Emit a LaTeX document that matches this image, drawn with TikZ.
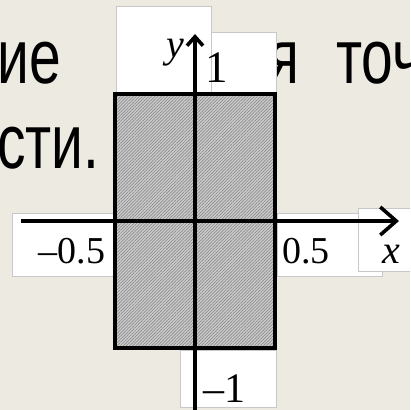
\documentclass[tikz,border=0pt]{standalone}
\usepackage{fontspec}
\setmainfont{Liberation Serif}
\newfontfamily\slidefont{Liberation Sans}
\usetikzlibrary{arrows.meta,patterns.meta}
\definecolor{bgc}{RGB}{237,235,225}
\definecolor{hatchbg}{RGB}{205,205,205}
\definecolor{hatchln}{RGB}{140,140,140}
\definecolor{boxedge}{RGB}{200,200,200}
\newcommand{\narrowtext}[1]{\scalebox{0.74}[1]{#1}}
\begin{document}
\begin{tikzpicture}[x=1pt,y=-1pt,
  bgtext/.style={inner sep=0pt, font=\slidefont\fontsize{77}{77}\selectfont},
  wbox/.style={fill=white, draw=boxedge, line width=0.6pt},
  lbl/.style={inner sep=0pt, anchor=base, font=\fontsize{38}{38}\selectfont},
  axisline/.style={line width=3.6pt}]
\useasboundingbox (0,0) rectangle (410,410);
\fill[bgc] (0,0) rectangle (410,410);
\begin{scope}
\clip (0,0) rectangle (410,410);
\node[bgtext, anchor=base west] (t1) at (-3,83) {\narrowtext{ие}};
\node[bgtext, anchor=base east] (t2) at (300,83) {\narrowtext{я}};
\node[bgtext, anchor=base west] (t3) at (336,83) {\narrowtext{точ}};
\node[bgtext, anchor=base west] (t4) at (-3,168) {\narrowtext{сти.}};
% white label patches
\filldraw[wbox] (116,6) rectangle (211,95);
\filldraw[wbox] (211,32) rectangle (276,95);
\filldraw[wbox] (12,213) rectangle (113,276);
\filldraw[wbox] (277,213) rectangle (382,276);
\filldraw[wbox] (358,208) rectangle (412,271);
\filldraw[wbox] (180,350) rectangle (276,407);
\end{scope}
% region
\fill[hatchbg] (115,94) rectangle (275,348);
\fill[pattern={Lines[angle=45,distance=2.2pt,line width=0.7pt]}, pattern color=hatchln] (115,94) rectangle (275,348);
\draw[line width=4pt] (115,94) rectangle (275,348);
% axes
\coordinate (xs) at (21,221);
\coordinate (xe) at (399,221);
\coordinate (ys) at (195,412);
\coordinate (ye) at (195,34);
\draw[axisline, -{Straight Barb[length=16pt,width=28pt]}] (xs) -- (xe);
\draw[axisline, -{Straight Barb[length=9pt,width=16pt]}] (ys) -- (ye);
% labels
\node[lbl] (lm) at (72,263) {–0.5};
\node[lbl] (lp) at (306,263) {0.5};
\node[lbl, font=\fontsize{40}{40}\selectfont\itshape] (lx) at (391,263) {x};
\node[lbl, font=\fontsize{40}{40}\selectfont\itshape] (ly) at (175,57) {y};
\node[lbl, font=\fontsize{45}{45}\selectfont] (l1) at (217,82) {1};
\node[lbl, font=\fontsize{42}{42}\selectfont] (lm1) at (224,402) {–1};
\end{tikzpicture}
\end{document}
